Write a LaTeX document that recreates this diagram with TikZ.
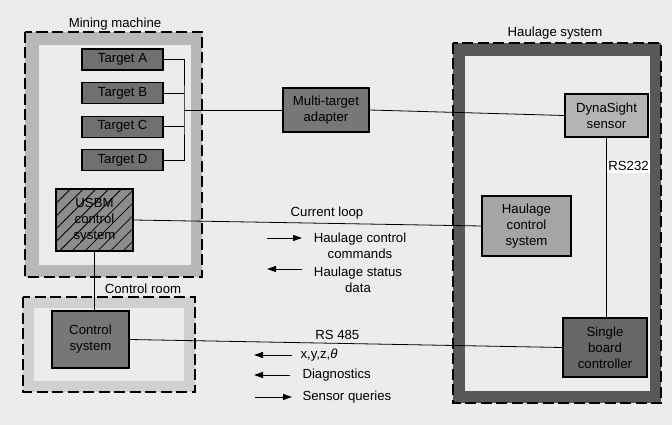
\documentclass[tikz,border=0pt]{standalone}
\usepackage{fontspec}
\setmainfont{Liberation Sans}
\usetikzlibrary{arrows.meta,positioning,patterns.meta}
\definecolor{Paper}{RGB}{236,236,236}
\definecolor{BandLight}{RGB}{184,184,184}
\definecolor{BandPale}{RGB}{208,208,208}
\definecolor{BandDark}{RGB}{88,88,88}
\definecolor{BoxDark}{RGB}{112,112,112}
\definecolor{BoxMid}{RGB}{165,165,165}
\definecolor{BoxLight}{RGB}{180,180,180}

\begin{document}
\begin{tikzpicture}[x=1pt, y=-1pt,
    font=\fontsize{13.2}{16}\selectfont,
    blk/.style={draw=black, line width=1.1pt, align=center, inner sep=0pt},
    frame/.style={dash pattern=on 11pt off 4.5pt, line width=1.3pt},
    wire/.style={line width=0.8pt},
    flow/.style={-{Triangle[length=9pt,width=6pt]}, line width=1pt}
  ]
  \useasboundingbox[fill=Paper] (0,0) rectangle (672,425);

  % mining machine
  \fill[BandLight] (25,32) rectangle (202,277);
  \fill[Paper] (39,45) rectangle (191,265);
  \draw[frame] (25,32) rectangle (202,277);
  \node (mmlabel) at (115,24) {Mining machine};

  \node[blk, fill=BoxDark, minimum width=81pt, minimum height=21pt] (ta) at (122.5,59.5) {Target A};
  \node[blk, fill=BoxDark, minimum width=81pt, minimum height=21pt, below=11.5pt of ta] (tb) {Target B};
  \node[blk, fill=BoxDark, minimum width=81pt, minimum height=21pt, below=11.5pt of tb] (tc) {Target C};
  \node[blk, fill=BoxDark, minimum width=81pt, minimum height=21pt, below=11.5pt of tc] (td) {Target D};
  \node[blk, fill=BoxMid!85!black, minimum width=77pt, minimum height=62pt,
        postaction={pattern={Lines[angle=45,distance=9pt,line width=0.8pt]}}] (usbm) at (94.5,220) {USBM\\control\\system};

  % control room
  \fill[BandPale] (23,297) rectangle (195,392);
  \fill[Paper] (34,308) rectangle (184,381);
  \draw[frame] (23,297) rectangle (195,392);
  \node (crlabel) at (143,289) {Control room};
  \node[blk, fill=BoxDark!95!white, minimum width=77pt, minimum height=57pt] (cs) at (90.5,339.5) {Control\\system};

  % haulage system
  \fill[BandDark] (453,43) rectangle (661,403);
  \fill[Paper] (465,56) rectangle (650,391);
  \draw[frame] (453,43) rectangle (661,403);
  \node (hslabel) at (555,33) {Haulage system};
  \node[blk, fill=BoxLight, minimum width=83pt, minimum height=43pt] (dyna) at (606.5,115.5) {DynaSight\\sensor};
  \node[blk, fill=BoxMid, minimum width=89pt, minimum height=60pt] (hcs) at (526.5,226) {Haulage\\control\\system};
  \node[blk, fill=BoxDark!92!black, minimum width=84pt, minimum height=59pt] (sbc) at (605,347.5) {Single\\board\\controller};

  \node[blk, fill=BoxDark!95!white, minimum width=86pt, minimum height=44pt] (mta) at (326,110) {Multi-target\\adapter};

  % wiring
  \coordinate (bus) at (184,110);
  \draw[wire] (ta.east) -| (bus) |- (td.east);
  \draw[wire] (tb.east) -- (tb.east -| bus);
  \draw[wire] (tc.east) -- (tc.east -| bus);
  \draw[wire] (bus) -- (mta.west);
  \draw[wire] (mta.east) -- (dyna.west);
  \draw[wire] (usbm.east) -- node[pos=0.556, above] (cloop) {Current loop} (hcs.west);
  \draw[wire] (usbm.south) -- (usbm.south |- cs.north);
  \draw[wire] (cs.east) -- node[pos=0.48, above] (rs485) {RS 485} (sbc.west);
  \draw[wire] (dyna.south) -- node[pos=0.16, right, fill=white, inner sep=1.5pt] (rs232) {RS232} (dyna.south |- sbc.north);

  % legends
  \draw[flow] (267,238) -- ++(35,0);
  \node (cmdtext) at (360,245.5) [align=center] {Haulage control\\commands};
  \draw[flow] (302,269) -- ++(-35,0);
  \node (stattext) at (358,280) [align=center] {Haulage status\\data};
  \draw[flow] (292,355) -- ++(-38,0);
  \node[anchor=west] (xyz) at (297,355) {x,y,z,{\itshape θ}};
  \draw[flow] (290,375) -- ++(-36,0);
  \node[anchor=west] (diag) at (299,375) {Diagnostics};
  \draw[flow] (255,397) -- ++(37,0);
  \node[anchor=west] (query) at (299,397) {Sensor queries};
\end{tikzpicture}
\end{document}
